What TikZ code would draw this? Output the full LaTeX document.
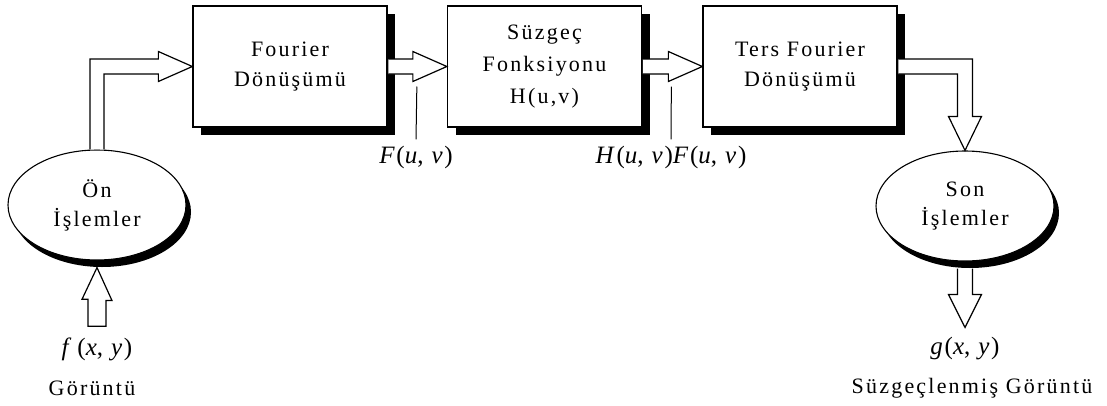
\documentclass[tikz,border=0pt]{standalone}
\usepackage{fontspec}
\setmainfont{Liberation Serif}
\newfontfamily\spacedfont[LetterSpace=10]{Liberation Serif}
\newfontfamily\mlblfont[LetterSpace=7]{Liberation Serif}
\usetikzlibrary{calc,shadows,shapes.geometric}
\begin{document}
\begin{tikzpicture}[x=1pt,y=-1pt,
  boxnode/.style={draw, line width=1.3pt, fill=white, minimum width=194pt, minimum height=121pt,
    inner sep=0pt, align=center, font=\fontsize{22}{30}\spacedfont,
    drop shadow={shadow xshift=8pt, shadow yshift=-8pt, fill=black, opacity=1}},
  ellnode/.style={ellipse, draw, line width=1.1pt, fill=white, minimum width=178pt, minimum height=110pt,
    inner sep=0pt, align=center, font=\fontsize{22}{29}\spacedfont,
    drop shadow={shadow xshift=5pt, shadow yshift=-7pt, fill=black, opacity=1}},
  blk/.style={draw, line width=1.2pt, fill=white, line join=miter},
  mlbl/.style={font=\fontsize{25}{28}\mlblfont, inner sep=2pt},
  txt/.style={font=\fontsize{22}{24}\spacedfont, inner sep=2pt},
  tick/.style={line width=1pt}]
\useasboundingbox (0,0) rectangle (1107,405);

\node[boxnode] (b1) at (290,66.5) {Fourier\\Dönüşümü};
\node[boxnode, font=\fontsize{22}{32}\spacedfont] (b2) at (544.5,66.5) {Süzgeç\\Fonksiyonu\\H(u,v)};
\node[boxnode] (b3) at (800,66.5) {Ters Fourier\\Dönüşümü};
\node[ellnode] (e1) at (97,205) {Ön\\İşlemler};
\node[ellnode] (e2) at (965,206) {Son\\İşlemler};

\node[mlbl] (fxy) at (97,349) {\textit{f}\,(\textit{x}, \textit{y})};
\node[txt] (gor) at (92,388) {Görüntü};
\node[mlbl] (gxy) at (965,349) {\textit{g}(\textit{x}, \textit{y})};
\node[txt] (sgor) at (972,388) {Süzgeçlenmiş Görüntü};
\node[mlbl] (lF) at (416,157) {\textit{F}(\textit{u}, \textit{v})};
\node[mlbl] (lHF) at (671,157) {\textit{H}(\textit{u}, \textit{v})\textit{F}(\textit{u}, \textit{v})};

% e1 -> b1
\draw[blk] ($(e1.north)+(-7,0)$) |- ($(b1.west)+(-34,-7.5)$) -- ++(0,-7.5) -- (b1.west)
  -- ($(b1.west)+(-34,15)$) -- ++(0,-7.5) -| ($(e1.north)+(7,0)$);
% b1 -> b2
\draw[blk] ($(b1.east)+(0.6,-7.5)$) -- ($(b2.west)+(-34,-7.5)$) -- ++(0,-7.5) -- (b2.west)
  -- ($(b2.west)+(-34,15)$) -- ++(0,-7.5) -- ($(b1.east)+(0.6,7.5)$);
% b2 -> b3
\draw[blk] ($(b2.east)+(0.6,-7.5)$) -- ($(b3.west)+(-34,-7.5)$) -- ++(0,-7.5) -- (b3.west)
  -- ($(b3.west)+(-34,15)$) -- ++(0,-7.5) -- ($(b2.east)+(0.6,7.5)$);
% b3 -> e2
\draw[blk] ($(b3.east)+(0.6,-7.5)$) -| ($(e2.north)+(7.5,-34)$) -- ++(9,0) -- (e2.north)
  -- ($(e2.north)+(-16.5,-34)$) -- ++(9,0) |- ($(b3.east)+(0.6,7.5)$);
% input arrow
\draw[blk] ($(e1.south)+(0,7)$) -- ++(15,33) -- ++(-6,0) -- ($(fxy.north)+(9,-9)$)
  -- ($(fxy.north)+(-9,-9)$) -- ++(0,-27) -- ++(-6,0) -- cycle;
% output arrow
\coordinate (otip) at ($(gxy.north)+(0,-8)$);
\draw[blk] ($(e2.south)+(7.5,7)$) -- ($(e2.south)+(7.5,33)$) -- ++(9,0) -- (otip)
  -- ($(e2.south)+(-16.5,33)$) -- ++(9,0) -- ($(e2.south)+(-7.5,7)$);

% label ticks
\coordinate (aF) at ($(b2.west)+(-30,20)$);
\draw[tick] (aF) -- ($(lF.north)+(0,-4)$ -| aF);
\coordinate (aHF) at ($(b3.west)+(-31,20)$);
\draw[tick] (aHF) -- ($(lHF.north)+(0,-4)$ -| aHF);
\end{tikzpicture}
\end{document}
